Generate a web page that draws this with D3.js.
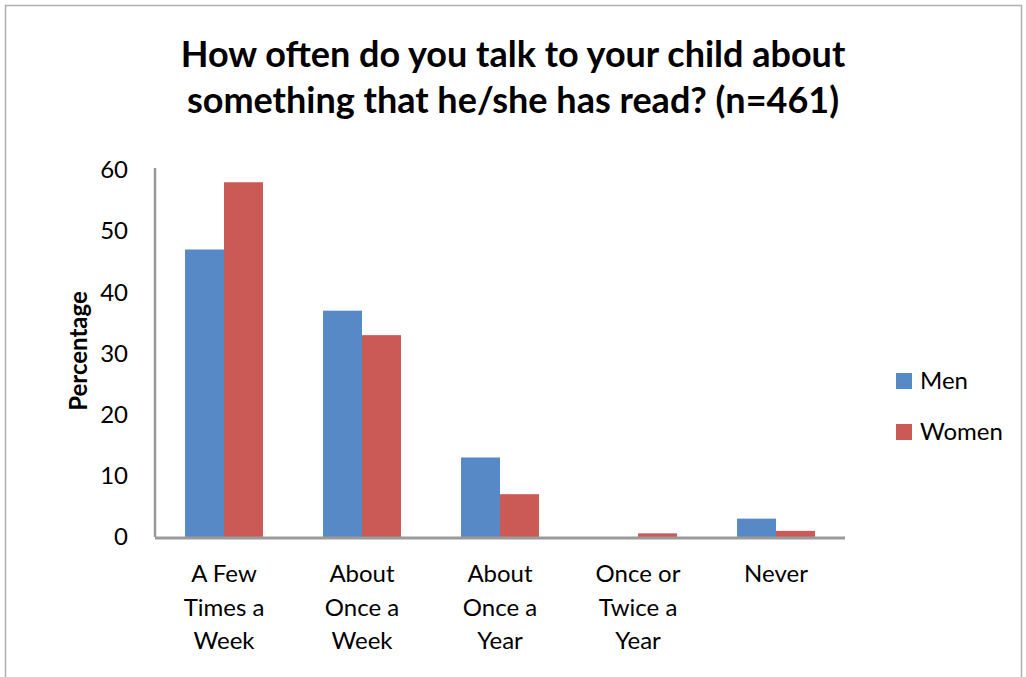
<!DOCTYPE html>
<html><head><meta charset="utf-8">
<script src="https://cdn.jsdelivr.net/npm/d3@7"></script>
<style>body{margin:0;background:#fff}svg{display:block}</style>
</head><body>
<svg id="chart" width="1026" height="677"></svg>
<script>
const categories = [["A Few","Times a","Week"],["About","Once a","Week"],["About","Once a","Year"],["Once or","Twice a","Year"],["Never"]];
const seriesNames = ["Men","Women"];
const menValues = [47, 37, 13, 0, 3];
const womenValues = [58, 33, 7, 0.6, 1];
const yTicks = [0,10,20,30,40,50,60];
const colors = ["#5889C7","#CB5A57"];

(function(){
const svg = d3.select("#chart");
const font = "Lato, 'Open Sans', sans-serif";

svg.append("rect").attr("x",5.5).attr("y",5.5).attr("width",1016).attr("height",680)
  .attr("fill","#fff").attr("stroke","#b0b0b0").attr("stroke-width",1.5);

const pL=155, pR=845, pT=170, pB=537;
const x0 = d3.scaleBand().domain(d3.range(categories.length)).range([pL,pR]).paddingInner(0.435).paddingOuter(0.2175);
const x1 = d3.scaleBand().domain([0,1]).range([0,x0.bandwidth()]);
const y = d3.scaleLinear().domain([0,60]).range([pB,pT]);

svg.append("text").attr("x",513).attr("y",67).attr("text-anchor","middle")
  .attr("font-family",font).attr("font-weight","bold").attr("font-size",36)
  .text("How often do you talk to your child about");
svg.append("text").attr("x",513).attr("y",113).attr("text-anchor","middle")
  .attr("font-family",font).attr("font-weight","bold").attr("font-size",36)
  .text("something that he/she has read? (n=461)");

const data = categories.map((c,i)=>[menValues[i],womenValues[i]]);
const g = svg.append("g");
data.forEach((vals,i)=>{
  vals.forEach((v,j)=>{
    g.append("rect").attr("x",x0(i)+x1(j)).attr("y",y(v)).attr("width",x1.bandwidth())
      .attr("height",pB-y(v)).attr("fill",colors[j]);
  });
});

const yAxis = d3.axisLeft(y).tickValues(yTicks).tickSize(0).tickPadding(27);
const ya = svg.append("g").attr("transform",`translate(${pL},0)`).call(yAxis);
ya.select(".domain").attr("stroke","#9a9a9a").attr("stroke-width",2.5).attr("d",`M0,${y(60)-2}V${pB}`);
ya.selectAll("text").attr("font-family",font).attr("font-size",24).attr("fill","#000");

svg.append("line").attr("x1",pL).attr("x2",pR).attr("y1",pB+1).attr("y2",pB+1)
  .attr("stroke","#9a9a9a").attr("stroke-width",3);

const xa = svg.append("g");
categories.forEach((lines,i)=>{
  const t = xa.append("text").attr("text-anchor","middle").attr("font-family",font).attr("font-size",24).attr("fill","#000");
  lines.forEach((l,k)=>{
    t.append("tspan").attr("x",x0(i)+x0.bandwidth()/2).attr("y",582+k*33.5).text(l);
  });
});

svg.append("text").attr("transform","translate(87,351) rotate(-90)").attr("text-anchor","middle")
  .attr("font-family",font).attr("font-weight","bold").attr("font-size",24).text("Percentage");

seriesNames.forEach((s,i)=>{
  const ly = 373 + i*51;
  svg.append("rect").attr("x",896).attr("y",ly).attr("width",16).attr("height",16).attr("fill",colors[i]);
  svg.append("text").attr("x",920).attr("y",ly+16).attr("font-family",font).attr("font-size",24).text(s);
});
})();
</script>
</body></html>
